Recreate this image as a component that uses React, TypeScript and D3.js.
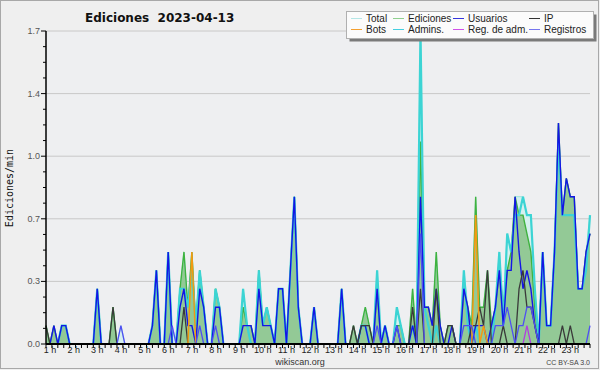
import React from "react";
import * as d3 from "d3";

// 10-minute bins from 1 h to 24 h (139 points)
const total = [
  .1,0,.1,0,.1,.1,0,0,0,0,
  0,0,0,.3,0,0,0,.2,0,.1,
  0,0,0,0,0,0,0,.1,.4,0,
  0,.5,.1,0,.3,.5,.2,.5,.1,.4,
  .2,0,0,.3,.2,0,0,0,0,0,
  .3,.1,.1,0,.4,.1,.2,.1,0,.3,
  .3,0,.4,.8,.2,0,0,0,.2,0,
  0,0,0,0,0,.3,0,0,.1,0,
  .1,.2,.1,0,.4,0,.1,0,0,.2,
  .1,0,0,.3,0,1.7,.2,.2,.1,.5,
  .1,0,.1,.1,0,0,.4,.2,.1,.8,
  .2,.2,.4,.1,.2,.5,.2,.6,.5,.8,
  .8,.8,.7,.7,.3,0,.5,.1,.1,.5,
  1.2,.7,.9,.8,.8,.3,.3,.5,.7,
];
const ediciones = [
  .1,0,.1,0,.1,.1,0,0,0,0,
  0,0,0,.3,0,0,0,.2,0,0,
  0,0,0,0,0,0,0,.1,.4,0,
  0,.5,0,0,.3,.5,.2,.5,.1,.4,
  .2,0,0,.3,.2,0,0,0,0,0,
  .2,.1,.1,0,.4,.1,.2,.1,0,.3,
  .3,0,.4,.8,.2,0,0,0,.2,0,
  0,0,0,0,0,.3,0,0,.1,0,
  .1,.2,.1,0,.3,0,.1,0,0,.1,
  .1,0,0,.3,0,1.1,.2,.2,.1,.5,
  .1,0,.1,.1,0,0,.3,.2,.1,.8,
  .2,.2,.4,.1,.2,.4,.2,.4,.5,.8,
  .7,.7,.6,.5,.2,0,.5,.1,.1,.5,
  1.2,.7,.9,.8,.8,.3,.3,.5,.6,
];
const usuarios = [
  0,0,.1,0,.1,.1,0,0,0,0,
  0,0,0,.3,0,0,0,0,0,0,
  0,0,0,0,0,0,0,.1,.4,0,
  0,.5,0,0,.2,.3,.1,.1,0,.3,
  .2,0,0,.2,.2,0,0,0,0,0,
  .1,.1,.1,0,.3,.1,.1,.1,0,.3,
  .3,0,.4,.8,.2,0,0,0,.2,0,
  0,0,0,0,0,.3,0,0,0,0,
  .1,.1,0,0,.3,0,.1,0,0,.1,
  0,0,0,.1,0,.8,.2,.2,.1,.3,
  .1,0,0,.1,0,0,.3,.2,0,.1,
  .1,.1,0,.1,.2,.4,.1,.4,.4,.8,
  .5,.3,.4,.3,.1,0,.5,.1,.1,.5,
  1.2,.7,.9,.8,.8,.3,.3,.5,.6,
];
const ip = [
  .1,0,0,0,0,0,0,0,0,0,
  0,0,0,0,0,0,0,.2,0,0,
  0,0,0,0,0,0,0,0,0,0,
  0,0,0,0,0,.2,0,0,0,0,
  0,0,0,0,0,0,0,0,0,0,
  0,0,0,0,0,0,0,0,0,0,
  0,0,0,0,0,0,0,0,0,0,
  0,0,0,0,0,0,0,0,.1,0,
  .1,.1,.1,0,0,0,0,0,0,0,
  0,0,0,.2,0,.3,0,0,0,.3,
  0,0,.1,.1,0,0,0,0,.1,.1,
  .2,.1,.4,0,0,0,.1,0,0,0,
  .3,.4,.2,.2,.1,0,0,0,0,0,
  0,.1,0,.1,0,0,0,0,0,
];
const bots = [
  0,0,0,0,0,0,0,0,0,0,
  0,0,0,0,0,0,0,0,0,0,
  0,0,0,0,0,0,0,0,0,0,
  0,0,0,0,0,0,0,.5,0,0,
  0,0,0,0,0,0,0,0,0,0,
  0,0,0,0,0,0,0,0,0,0,
  0,0,0,0,0,0,0,0,0,0,
  0,0,0,0,0,0,0,0,0,0,
  0,0,0,0,0,0,0,0,0,0,
  0,0,0,0,0,0,0,0,0,0,
  0,0,0,0,0,0,0,0,0,.7,
  0,.1,0,0,0,0,0,0,0,0,
  0,0,0,0,0,0,0,0,0,0,
  0,0,0,0,0,0,0,0,0,
];
const admins = [
  0,0,0,0,.1,.1,0,0,0,0,
  0,0,0,.3,0,0,0,0,0,0,
  0,0,0,0,0,0,0,.1,.4,0,
  0,.5,0,0,.3,.3,.2,.4,.1,.4,
  .2,0,0,.3,.2,0,0,0,0,0,
  .3,.1,0,0,.4,.1,.2,.1,0,.3,
  .3,0,.4,.8,.2,0,0,0,.2,0,
  0,0,0,0,0,.3,0,0,0,0,
  .1,.1,0,0,.4,0,.1,0,0,.2,
  .1,0,0,.1,0,1.7,.2,.1,0,.1,
  0,0,0,0,0,0,.4,.1,0,.1,
  0,0,0,0,.2,.5,.1,.6,.5,.7,
  .7,.8,.7,.7,.3,0,.5,.1,.1,.5,
  1.1,.7,.7,.7,.7,.3,.3,.4,.7,
];
const regAdm = [
  0,0,0,0,0,0,0,0,0,0,
  0,0,0,0,0,0,0,0,0,0,
  0,0,0,0,0,0,0,0,0,0,
  0,0,0,0,0,0,0,0,0,0,
  0,0,0,0,0,0,0,0,0,0,
  0,0,0,0,0,0,0,0,0,0,
  0,0,0,0,0,0,0,0,0,0,
  0,0,0,0,0,0,0,0,0,0,
  0,0,0,0,0,0,0,0,0,0,
  0,0,0,0,0,0,0,0,0,0,
  0,0,0,0,0,0,0,0,0,0,
  0,0,0,0,0,0,0,0,0,0,
  0,0,.1,0,0,0,0,0,0,0,
  0,0,0,0,0,0,0,0,0,
];
const registros = [
  0,0,0,0,0,0,0,0,0,0,
  0,0,0,0,0,0,0,0,0,.1,
  0,0,0,0,0,0,0,0,0,0,
  0,0,.1,0,0,0,0,0,0,.1,
  0,0,0,.1,0,0,0,0,0,0,
  0,0,0,0,0,0,0,0,0,0,
  0,0,0,0,0,0,0,0,0,0,
  0,0,0,0,0,0,0,0,0,0,
  0,0,0,0,.1,0,0,0,0,.1,
  0,0,0,0,0,.6,0,0,0,0,
  0,0,0,0,0,0,.1,.1,.1,0,
  0,0,0,0,.1,.1,.1,.2,.1,0,
  .1,.1,.2,.2,.1,0,0,0,0,0,
  0,0,0,0,0,0,0,0,.1,
];

const hourLabels = d3.range(1, 24).map((h) => `${h} h`);
const yMax = 1.7;
const yTickValues = d3.range(0, 6).map((k) => (k * yMax) / 5);

const legendItems = [
  { label: "Total", color: "#b4e6e6" },
  { label: "Ediciones", color: "#8fd08f" },
  { label: "Usuarios", color: "#3535dd" },
  { label: "IP", color: "#333333" },
  { label: "Bots", color: "#f4a030" },
  { label: "Admins.", color: "#44cfe0" },
  { label: "Reg. de adm.", color: "#d050e8" },
  { label: "Registros", color: "#7575ee" },
];

export default function App() {
  const W = 600, H = 370;
  const L = 46, R = 590, T = 31, B = 344;
  const x = d3.scaleLinear().domain([0, total.length - 1]).range([L, R]);
  const y = d3.scaleLinear().domain([0, yMax]).range([B, T]);
  const area = d3.area<number>().x((_, i) => x(i)).y0(y(0)).y1((d) => y(d));
  const line = d3.line<number>().x((_, i) => x(i)).y((d) => y(d));

  const minorY = d3.range(0, 21).map((k) => (k * yMax) / 20);
  const minorX = d3.range(0, 93).map((k) => k * 1.5);

  const ff = "'Liberation Sans', Arial, sans-serif";
  const colX = [351, 393, 453, 529];
  const rowY = [18.5, 29.5];

  return (
    <div style={{ position: "fixed", left: 0, top: 0 }}>
      <svg width={W} height={H} style={{ display: "block" }}>
        <rect x={0} y={0} width={W} height={H} fill="#efefef" />
        <rect x={0.5} y={0.5} width={598} height={368} fill="none" stroke="#a8a8a8" />
        <rect x={L} y={T} width={R - L} height={B - T} fill="#eeeff1" />
        {yTickValues.map((v, i) => (
          <line key={"g" + i} x1={L} x2={R} y1={y(v)} y2={y(v)} stroke="#c8c8c8" strokeWidth={1} />
        ))}
        {/* series */}
        <path d={area(total) || ""} fill="#d6f0ef" stroke="none" />
        <path d={area(ediciones) || ""} fill="#93c996" stroke="none" />
        <path d={line(total) || ""} fill="none" stroke="#a8e6e2" strokeWidth={1.2} />
        <path d={line(ediciones) || ""} fill="none" stroke="#3fb23f" strokeWidth={1.4} />
        <path d={line(admins) || ""} fill="none" stroke="#3cd4d4" strokeWidth={2.2} />
        <path d={line(usuarios) || ""} fill="none" stroke="#1414e6" strokeWidth={1.4} />
        <path d={line(ip) || ""} fill="none" stroke="#3a3a3a" strokeWidth={1.3} />
        <path d={line(bots) || ""} fill="none" stroke="#f39a12" strokeWidth={1.5} />
        <path d={line(regAdm) || ""} fill="none" stroke="#b040e0" strokeWidth={1.3} />
        <path d={line(registros) || ""} fill="none" stroke="#4f4ff2" strokeWidth={1.3} />
        {/* y axis */}
        <line x1={L} x2={L} y1={T} y2={B} stroke="#000" strokeWidth={1.5} />
        {minorY.map((v, i) => (
          <line key={"my" + i} x1={i % 4 === 0 ? L - 5 : L - 3} x2={L} y1={y(v)} y2={y(v)} stroke="#000" strokeWidth={1} />
        ))}
        {yTickValues.map((v, i) => (
          <text key={"yl" + i} x={L - 6} y={y(v) + 3} textAnchor="end" fontFamily={ff} fontSize={9} fill="#555">
            {v.toFixed(1)}
          </text>
        ))}
        {/* x axis */}
        {minorX.map((v, i) => (
          <line key={"mx" + i} x1={x(v)} x2={x(v)} y1={B} y2={B + 4} stroke="#000" strokeWidth={1} />
        ))}
        <line x1={L} x2={R} y1={B} y2={B} stroke="#000" strokeWidth={1.8} />
        {hourLabels.map((h, i) => (
          <text key={"xl" + i} x={x(i * 6) + 4} y={353} textAnchor="middle" fontFamily={ff} fontSize={9} fill="#222">
            {h}
          </text>
        ))}
        {/* titles */}
        <text x={85} y={22} fontFamily="'DejaVu Sans', sans-serif" fontWeight="bold" fontSize={12} fill="#111" style={{ whiteSpace: "pre" }}>
          {"Ediciones  2023-04-13"}
        </text>
        <text transform="translate(13,188) rotate(-90)" textAnchor="middle" fontFamily="'DejaVu Sans Mono', monospace" fontSize={10} fill="#111">
          Ediciones/min
        </text>
        <text x={300} y={365} textAnchor="middle" fontFamily={ff} fontSize={9} fill="#333">wikiscan.org</text>
        <text x={590} y={365} textAnchor="end" fontFamily={ff} fontSize={7} fill="#444">CC BY-SA 3.0</text>
        {/* legend */}
        <rect x={349.5} y={14.5} width={247} height={27} fill="#7a7a7a" />
        <rect x={346.5} y={11.5} width={247} height={27} fill="#fbfbfb" stroke="#b0b0b0" />
        {legendItems.map((it, i) => {
          const c = i % 4, r = Math.floor(i / 4);
          const ly = rowY[r];
          const lx = colX[c];
          return (
            <g key={"lg" + i}>
              <line x1={lx} x2={lx + 11} y1={ly} y2={ly} stroke={it.color} strokeWidth={1} />
              <text x={lx + 15} y={ly + 3.5} fontFamily={ff} fontSize={10} fill="#222">{it.label}</text>
            </g>
          );
        })}
      </svg>
    </div>
  );
}
